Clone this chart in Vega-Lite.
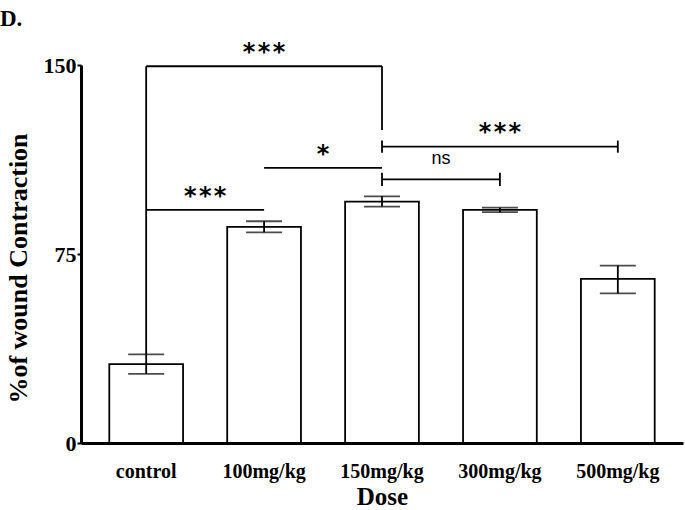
{
  "$schema": "https://vega.github.io/schema/vega-lite/v6.json",
  "width": 602,
  "height": 378,
  "autosize": {"type": "none"},
  "padding": {"left": 81, "top": 65, "right": 2, "bottom": 67},
  "background": "white",
  "title": {"text": "D.", "anchor": "start", "frame": "group", "dx": -81, "offset": 10, "font": "Liberation Serif", "fontSize": 23, "fontWeight": "bold", "color": "black"},
  "config": {"view": {"stroke": null}},
  "datasets": {
    "bars": [
      {"dose": "control", "mean": 31.3, "lo": 27.4, "hi": 35.2},
      {"dose": "100mg/kg", "mean": 85.8, "lo": 83.6, "hi": 88.0},
      {"dose": "150mg/kg", "mean": 95.8, "lo": 93.8, "hi": 97.9},
      {"dose": "300mg/kg", "mean": 92.5, "lo": 91.6, "hi": 93.4},
      {"dose": "500mg/kg", "mean": 65.1, "lo": 59.4, "hi": 70.4}
    ],
    "segments": [
      {"dose": "control", "dose2": "150mg/kg", "v": 149.5, "v2": 149.5},
      {"dose": "control", "dose2": "control", "v": 35.2, "v2": 149.5},
      {"dose": "150mg/kg", "dose2": "150mg/kg", "v": 124.2, "v2": 149.5},
      {"dose": "150mg/kg", "dose2": "500mg/kg", "v": 117.6, "v2": 117.6},
      {"dose": "150mg/kg", "dose2": "150mg/kg", "v": 115.2, "v2": 120.0},
      {"dose": "500mg/kg", "dose2": "500mg/kg", "v": 115.2, "v2": 120.0},
      {"dose": "100mg/kg", "dose2": "150mg/kg", "v": 109.2, "v2": 109.2},
      {"dose": "150mg/kg", "dose2": "300mg/kg", "v": 104.6, "v2": 104.6},
      {"dose": "150mg/kg", "dose2": "150mg/kg", "v": 102.0, "v2": 107.2},
      {"dose": "300mg/kg", "dose2": "300mg/kg", "v": 102.0, "v2": 107.2},
      {"dose": "control", "dose2": "100mg/kg", "v": 92.5, "v2": 92.5}
    ],
    "starsCenter": [
      {"dose": "100mg/kg", "v": 154.7, "label": "*\u200a*\u200a*"},
      {"dose": "300mg/kg", "v": 123.0, "label": "*\u200a*\u200a*"}
    ],
    "starsBetween": [
      {"dose": "control", "v": 97.6, "label": "*\u200a*\u200a*"},
      {"dose": "100mg/kg", "v": 114.3, "label": "*"}
    ],
    "ns": [
      {"dose": "150mg/kg", "v": 112.8, "label": "ns"}
    ]
  },
  "encoding": {
    "x": {
      "field": "dose",
      "type": "nominal",
      "sort": ["control", "100mg/kg", "150mg/kg", "300mg/kg", "500mg/kg"],
      "scale": {"domain": ["control", "100mg/kg", "150mg/kg", "300mg/kg", "500mg/kg"], "paddingInner": 0.3745, "paddingOuter": 0.24},
      "axis": {
        "title": "Dose",
        "titleFont": "Liberation Serif",
        "titleFontSize": 25,
        "titleFontWeight": "bold",
        "titleColor": "black",
        "titlePadding": 3,
        "labelFont": "Liberation Serif",
        "labelFontSize": 20,
        "labelFontWeight": "bold",
        "labelColor": "black",
        "labelAngle": 0,
        "labelPadding": 18,
        "ticks": false,
        "domainColor": "black",
        "domainWidth": 3,
        "grid": false
      }
    }
  },
  "layer": [
    {
      "data": {"name": "bars"},
      "mark": {"type": "bar", "fill": "white", "stroke": "black", "strokeWidth": 1.8},
      "encoding": {
        "y": {
          "field": "mean",
          "type": "quantitative",
          "scale": {"domain": [0, 150], "nice": false},
          "axis": {
            "title": "%of wound Contraction",
            "values": [0, 75, 150],
            "titleFont": "Liberation Serif",
            "titleFontSize": 26,
            "titleFontWeight": "bold",
            "titleColor": "black",
            "titleY": 203,
            "titlePadding": 12,
            "labelFont": "Liberation Serif",
            "labelFontSize": 22,
            "labelFontWeight": "bold",
            "labelColor": "black",
            "labelPadding": 1,
            "tickSize": 4,
            "tickWidth": 2,
            "tickColor": "black",
            "domainColor": "black",
            "domainWidth": 3,
            "grid": false
          }
        }
      }
    },
    {
      "data": {"name": "bars"},
      "mark": {"type": "rule", "color": "black", "strokeWidth": 1.8},
      "encoding": {
        "y": {"field": "lo", "type": "quantitative", "title": "%of wound Contraction"},
        "y2": {"field": "hi"}
      }
    },
    {
      "data": {"name": "bars"},
      "mark": {"type": "tick", "color": "black", "size": 36, "thickness": 1.8},
      "encoding": {
        "y": {"field": "lo", "type": "quantitative", "title": "%of wound Contraction"}
      }
    },
    {
      "data": {"name": "bars"},
      "mark": {"type": "tick", "color": "black", "size": 36, "thickness": 1.8},
      "encoding": {
        "y": {"field": "hi", "type": "quantitative", "title": "%of wound Contraction"}
      }
    },
    {
      "data": {"name": "segments"},
      "mark": {"type": "rule", "color": "black", "strokeWidth": 1.8},
      "encoding": {
        "x2": {"field": "dose2"},
        "y": {"field": "v", "type": "quantitative", "title": "%of wound Contraction"},
        "y2": {"field": "v2"}
      }
    },
    {
      "data": {"name": "starsCenter"},
      "mark": {"type": "text", "font": "DejaVu Sans", "fontSize": 24, "fontWeight": "bold", "color": "black", "baseline": "middle", "align": "center"},
      "encoding": {
        "y": {"field": "v", "type": "quantitative", "title": "%of wound Contraction"},
        "text": {"field": "label"}
      }
    },
    {
      "data": {"name": "starsBetween"},
      "mark": {"type": "text", "font": "DejaVu Sans", "fontSize": 24, "fontWeight": "bold", "color": "black", "baseline": "middle", "align": "center"},
      "encoding": {
        "x": {"field": "dose", "type": "nominal", "bandPosition": 1.3},
        "y": {"field": "v", "type": "quantitative", "title": "%of wound Contraction"},
        "text": {"field": "label"}
      }
    },
    {
      "data": {"name": "ns"},
      "mark": {"type": "text", "font": "Liberation Sans", "fontSize": 18, "color": "black", "baseline": "middle", "align": "center"},
      "encoding": {
        "x": {"field": "dose", "type": "nominal", "bandPosition": 1.3},
        "y": {"field": "v", "type": "quantitative", "title": "%of wound Contraction"},
        "text": {"field": "label"}
      }
    }
  ]
}
